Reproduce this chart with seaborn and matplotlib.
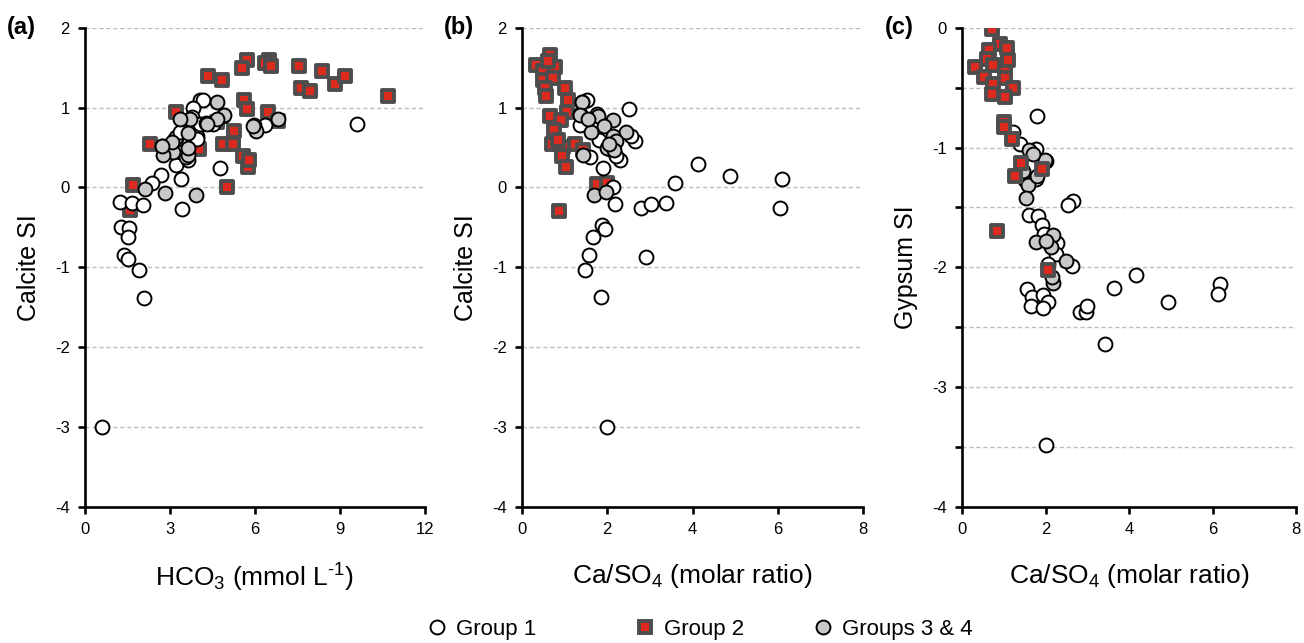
import matplotlib
matplotlib.use("Agg")
import matplotlib.pyplot as plt
import seaborn as sns
import pandas as pd
import numpy as np
from matplotlib.lines import Line2D
from matplotlib.ticker import FuncFormatter, MultipleLocator

# ---------------- data ----------------
# Panel (a): HCO3 (mmol/L) vs Calcite SI
a_g1_x = [9.59, 4.06, 4.18, 3.82, 3.76, 4.76, 3.39, 3.21, 3.64, 3.94, 2.68, 2.35, 1.24, 1.65, 2.06, 3.43,
          1.27, 1.56, 1.53, 1.39, 1.53, 1.92, 2.08, 0.59, 6.35, 5.96, 4.53, 4.06, 2.73, 2.85, 3.44, 3.20,
          4.88, 3.57, 3.97, 4.27, 3.35, 2.76]
a_g1_y = [0.80, 1.09, 1.09, 0.99, 0.88, 0.24, 0.11, 0.28, 0.34, 0.64, 0.16, 0.05, -0.18, -0.20, -0.22, -0.27,
          -0.49, -0.51, -0.62, -0.85, -0.90, -1.03, -1.38, -3.00, 0.78, 0.78, 0.80, 0.80, 0.52, 0.46, 0.45, 0.63,
          0.89, 0.38, 0.61, 0.81, 0.70, 0.51]
a_g2_x = [5.71, 5.55, 6.51, 6.35, 6.57, 7.55, 7.64, 7.94, 8.38, 8.82, 9.18, 10.68, 4.33, 4.85, 5.62, 5.70,
          6.45, 3.20, 5.27, 4.86, 5.24, 5.59, 5.77, 5.80, 5.00, 2.29, 3.20, 4.04, 1.71, 1.59, 6.80, 4.65]
a_g2_y = [1.60, 1.49, 1.60, 1.56, 1.52, 1.52, 1.25, 1.21, 1.46, 1.30, 1.40, 1.15, 1.40, 1.34, 1.09, 0.98,
          0.94, 0.94, 0.71, 0.54, 0.54, 0.39, 0.26, 0.35, 0.00, 0.54, 0.57, 0.48, 0.03, -0.28, 0.83, 0.82]
a_g3_x = [4.65, 4.92, 4.65, 3.70, 3.35, 4.29, 3.65, 6.02, 6.82, 3.12, 2.76, 3.63, 3.65, 3.06, 2.12, 2.82,
          3.91, 5.92, 2.70]
a_g3_y = [1.07, 0.91, 0.86, 0.86, 0.86, 0.80, 0.68, 0.71, 0.86, 0.45, 0.41, 0.41, 0.50, 0.57, -0.02, -0.07,
          -0.09, 0.77, 0.52]

# Panel (b): Ca/SO4 vs Calcite SI
b_g1_x = [2.50, 1.52, 1.40, 1.36, 1.75, 2.64, 2.56, 2.30, 1.89, 2.07, 1.60, 1.36, 4.12, 4.87, 6.10, 6.06,
          3.59, 2.79, 3.02, 3.37, 2.18, 2.14, 1.87, 1.95, 1.66, 1.58, 2.90, 1.48, 1.85, 1.99, 2.20, 1.80]
b_g1_y = [0.98, 1.10, 1.07, 0.92, 0.92, 0.58, 0.64, 0.34, 0.24, 0.48, 0.38, 0.78, 0.29, 0.14, 0.11, -0.26,
          0.05, -0.26, -0.21, -0.20, -0.21, 0.00, -0.47, -0.52, -0.62, -0.85, -0.87, -1.03, -1.37, -3.00, 0.40, 0.60]
b_g2_x = [0.66, 0.34, 0.50, 0.77, 0.50, 0.73, 0.54, 1.01, 0.56, 1.09, 1.05, 0.66, 0.91, 0.74, 0.70, 0.97,
          1.24, 0.95, 1.03, 1.44, 1.75, 1.99, 0.87, 0.60, 0.85]
b_g2_y = [1.66, 1.53, 1.46, 1.51, 1.34, 1.37, 1.25, 1.24, 1.14, 1.09, 0.95, 0.89, 0.84, 0.72, 0.55, 0.51,
          0.55, 0.39, 0.26, 0.47, 0.04, 0.06, -0.29, 1.58, 0.60]
b_g3_x = [1.40, 1.35, 1.79, 2.14, 1.93, 1.61, 2.43, 2.14, 2.20, 1.99, 2.17, 1.44, 1.70, 1.96, 1.55, 2.05]
b_g3_y = [1.07, 0.91, 0.89, 0.84, 0.77, 0.70, 0.70, 0.65, 0.58, 0.49, 0.47, 0.41, -0.10, -0.06, 0.86, 0.55]

# Panel (c): Ca/SO4 vs Gypsum SI
c_g1_x = [1.79, 1.22, 1.40, 1.77, 2.01, 1.51, 1.78, 2.66, 2.53, 1.61, 1.81, 1.92, 1.96, 2.28, 2.25, 2.63,
          2.05, 4.17, 3.64, 6.18, 6.14, 4.93, 1.56, 1.68, 1.66, 1.93, 2.05, 1.93, 2.82, 2.97, 3.00, 3.42, 2.02]
c_g1_y = [-0.74, -0.87, -0.97, -1.01, -1.11, -1.27, -1.26, -1.45, -1.48, -1.56, -1.57, -1.65, -1.72, -1.80,
          -1.89, -1.99, -1.97, -2.06, -2.17, -2.14, -2.22, -2.29, -2.18, -2.25, -2.32, -2.23, -2.29, -2.34,
          -2.37, -2.37, -2.32, -2.64, -3.48]
c_g2_x = [0.71, 0.91, 1.07, 0.64, 0.60, 0.32, 0.75, 1.04, 1.10, 0.52, 1.03, 0.75, 1.21, 0.71, 1.04, 1.01,
          1.01, 1.20, 1.42, 1.26, 1.91, 0.83, 2.05]
c_g2_y = [-0.01, -0.14, -0.17, -0.19, -0.26, -0.33, -0.31, -0.33, -0.27, -0.41, -0.42, -0.47, -0.50, -0.55,
          -0.58, -0.79, -0.83, -0.93, -1.13, -1.24, -1.18, -1.70, -2.02]
c_g3_x = [1.61, 1.98, 1.45, 1.58, 1.53, 1.80, 1.77, 2.19, 2.12, 2.00, 2.48, 2.19, 2.15, 1.70]
c_g3_y = [-1.02, -1.10, -1.20, -1.31, -1.42, -1.24, -1.79, -1.73, -1.83, -1.78, -1.95, -2.13, -2.08, -1.05]

legend_labels = ["Group 1", "Group 2", "Groups 3 & 4"]

# ---------------- style ----------------
sns.set_style("white")
plt.rcParams['font.family'] = ['Liberation Sans', 'DejaVu Sans']
plt.rcParams['mathtext.fontset'] = 'custom'
plt.rcParams['mathtext.rm'] = 'Liberation Sans'
plt.rcParams['mathtext.it'] = 'Liberation Sans'
plt.rcParams['text.color'] = 'black'
plt.rcParams['axes.labelcolor'] = 'black'
plt.rcParams['xtick.color'] = 'black'
plt.rcParams['ytick.color'] = 'black'
plt.rcParams['axes.unicode_minus'] = False

RED = '#DC2A1E'
SQ_EDGE = '#4D4D4D'
GRAY = '#C8C8C8'

g1_kw = dict(marker='o', s=100, facecolor='white', edgecolor='black', linewidth=1.4)
g2_kw = dict(marker='s', s=85, facecolor=RED, edgecolor=SQ_EDGE, linewidth=2.8)
g3_kw = dict(marker='o', s=100, facecolor=GRAY, edgecolor='black', linewidth=1.4)

fig = plt.figure(figsize=(13.04, 6.43), dpi=100)
W, H = 1304, 643
bottom = (H - 507) / H
height = (507 - 27.7) / H
ax_a = fig.add_axes([85 / W, bottom, 340 / W, height])
ax_b = fig.add_axes([522 / W, bottom, 341 / W, height])
ax_c = fig.add_axes([962 / W, bottom, 334 / W, height])


def scatter(ax, x, y, kw, z):
    df = pd.DataFrame({"x": x, "y": y})
    sns.scatterplot(data=df, x="x", y="y", ax=ax, zorder=z, legend=False, **kw)


# (a)
scatter(ax_a, a_g2_x, a_g2_y, g2_kw, 3)
scatter(ax_a, a_g1_x, a_g1_y, g1_kw, 4)
scatter(ax_a, a_g3_x, a_g3_y, g3_kw, 5)
# (b)
scatter(ax_b, b_g2_x, b_g2_y, g2_kw, 3)
scatter(ax_b, b_g1_x, b_g1_y, g1_kw, 4)
scatter(ax_b, b_g3_x, b_g3_y, g3_kw, 5)
# (c)
scatter(ax_c, c_g1_x, c_g1_y, g1_kw, 3)
scatter(ax_c, c_g3_x, c_g3_y, g3_kw, 4)
scatter(ax_c, c_g2_x, c_g2_y, g2_kw, 5)


def style(ax, xlim, xstep, ylim, ystep, xlabel, ylabel, tag):
    ax.set_xlim(*xlim)
    ax.set_ylim(*ylim)
    ax.xaxis.set_major_locator(MultipleLocator(xstep))
    ax.yaxis.set_major_locator(MultipleLocator(ystep))
    ax.yaxis.set_major_formatter(FuncFormatter(
        lambda v, p: (f"{int(round(v))}" if abs(v - round(v)) < 1e-6 else "")))
    ax.xaxis.set_major_formatter(FuncFormatter(lambda v, p: f"{int(round(v))}"))
    for s in ['top', 'right']:
        ax.spines[s].set_visible(False)
    for s in ['left', 'bottom']:
        ax.spines[s].set_linewidth(1.9)
        ax.spines[s].set_color('black')
    ax.tick_params(axis='both', direction='out', length=5, width=1.9, colors='black',
                   labelsize=12, left=True, bottom=True, pad=6)
    ax.yaxis.grid(True, linestyle=(0, (3, 2)), color='#BDBDBD', linewidth=1.0)
    ax.xaxis.grid(False)
    ax.set_axisbelow(True)
    ax.set_xlabel(xlabel, fontsize=19, labelpad=18, color='black')
    ax.set_ylabel(ylabel, fontsize=18, labelpad=10, color='black')
    ax.text(-0.23, 1.0, tag, transform=ax.transAxes, fontsize=17, fontweight='bold',
            ha='left', va='center', color='black')


style(ax_a, (0, 12), 3, (-4, 2), 1, r"HCO$_3$ (mmol L$^{\text{-1}}$)", "Calcite SI", "(a)")
style(ax_b, (0, 8), 2, (-4, 2), 1, r"Ca/SO$_4$ (molar ratio)", "Calcite SI", "(b)")
style(ax_c, (0, 8), 2, (-4, 0), 0.5, r"Ca/SO$_4$ (molar ratio)", "Gypsum SI", "(c)")
for ax in (ax_a, ax_b, ax_c):
    ax.spines['left'].set_zorder(6)
    ax.spines['bottom'].set_zorder(6)

# ---------------- legend ----------------
handles = [
    Line2D([], [], linestyle='none', marker='o', markersize=10, markerfacecolor='white',
           markeredgecolor='black', markeredgewidth=1.4),
    Line2D([], [], linestyle='none', marker='s', markersize=9.2, markerfacecolor=RED,
           markeredgecolor=SQ_EDGE, markeredgewidth=2.8),
    Line2D([], [], linestyle='none', marker='o', markersize=10, markerfacecolor=GRAY,
           markeredgecolor='black', markeredgewidth=1.4),
]
marker_px = [437, 645, 823]
leg_y = (H - 629) / H
for h, lab, mx in zip(handles, legend_labels, marker_px):
    leg = fig.legend([h], [lab], loc='center left', bbox_to_anchor=((mx - 11) / W, leg_y),
                     frameon=False, fontsize=16, handlelength=1.0, handletextpad=0.35,
                     borderpad=0, borderaxespad=0)
    for t in leg.get_texts():
        t.set_color('black')

fig.savefig("out.png", dpi=100)
